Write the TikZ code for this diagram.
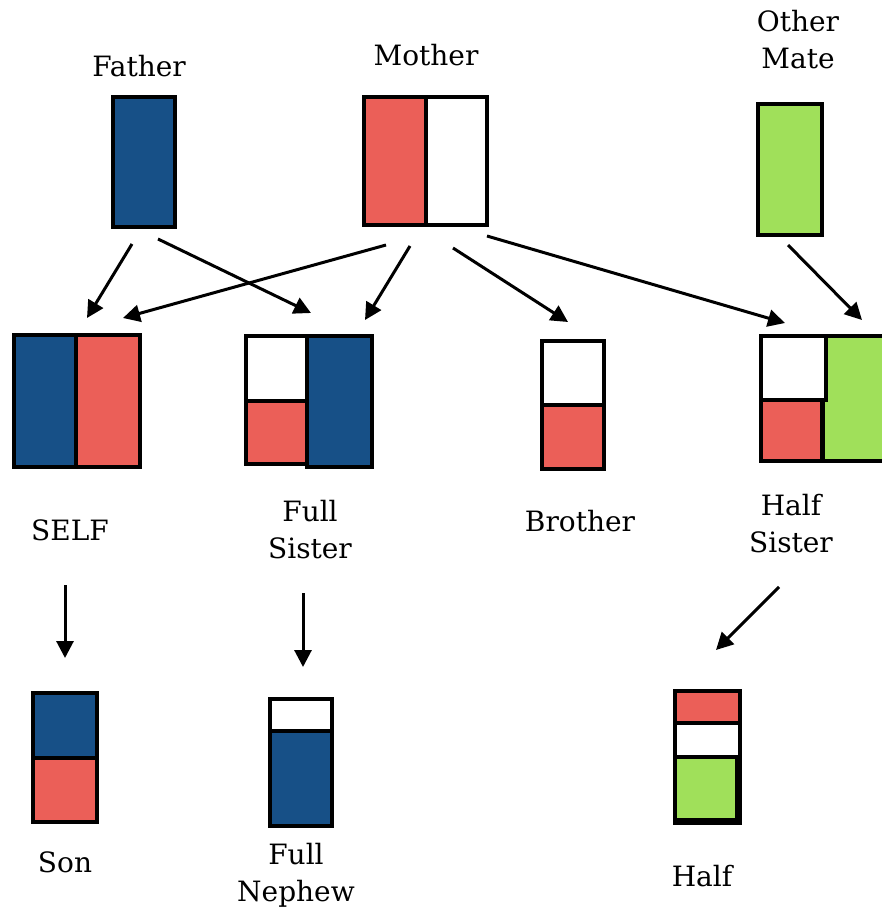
\documentclass[tikz,border=0pt]{standalone}
\usepackage{fontspec}
\setmainfont{DejaVu Serif}
\usetikzlibrary{arrows.meta}
\definecolor{fblue}{RGB}{23,80,135}
\definecolor{mred}{RGB}{235,95,88}
\definecolor{ogreen}{RGB}{160,224,90}
\begin{document}
\begin{tikzpicture}[x=1pt,y=-1pt,
  cell/.style={draw=black, line width=3.4pt, inner sep=0pt, outer sep=0pt},
  lbl/.style={font=\fontsize{28}{37}\selectfont, align=center, inner sep=0pt, anchor=base},
  link/.style={line width=3pt, -{Triangle[length=17pt,width=17pt]}}]
\useasboundingbox (0,0) rectangle (881,907);

% parents
\node[cell, fill=fblue, minimum width=62, minimum height=130] (father) at (144,162) {};
\node[cell, fill=mred, minimum width=62, minimum height=128] (motherA) at (395,161) {};
\node[cell, fill=white, minimum width=61, minimum height=128] (motherB) at (456.5,161) {};
\node[cell, fill=ogreen, minimum width=64, minimum height=131] (mate) at (790,169.5) {};

% children
\node[cell, fill=fblue, minimum width=62, minimum height=132] (selfA) at (45,401) {};
\node[cell, fill=mred, minimum width=64, minimum height=132] (selfB) at (108,401) {};

\node[cell, fill=white, minimum width=61, minimum height=65] (fsisA) at (276.5,368.5) {};
\node[cell, fill=mred, minimum width=61, minimum height=63] (fsisB) at (276.5,432.5) {};
\node[cell, fill=fblue, minimum width=65, minimum height=131] (fsisC) at (339.5,401.5) {};

\node[cell, fill=white, minimum width=62, minimum height=64] (broA) at (573,373) {};
\node[cell, fill=mred, minimum width=62, minimum height=64] (broB) at (573,437) {};

\node[cell, fill=ogreen, minimum width=63, minimum height=125] (hsisC) at (854.5,398.5) {};
\node[cell, fill=mred, minimum width=61, minimum height=61] (hsisB) at (791.5,430.5) {};
\node[cell, fill=white, minimum width=65, minimum height=64] (hsisA) at (793.5,368) {};

% grandchildren
\node[cell, fill=fblue, minimum width=64, minimum height=65] (sonA) at (65,725.5) {};
\node[cell, fill=mred, minimum width=64, minimum height=64] (sonB) at (65,790) {};

\node[cell, fill=white, minimum width=62, minimum height=32] (nephA) at (301,715) {};
\node[cell, fill=fblue, minimum width=62, minimum height=95] (nephB) at (301,778.5) {};

\node[cell, minimum width=65, minimum height=132] (halfF) at (707.5,757.5) {};
\node[cell, fill=mred, minimum width=65, minimum height=32] (halfA) at (707.5,707) {};
\node[cell, fill=white, minimum width=65, minimum height=34] (halfB) at (707.5,740) {};
\node[cell, fill=ogreen, minimum width=62, minimum height=63] (halfC) at (706,788.5) {};

% labels (base anchor sits on the last line)
\node[lbl] (tFather) at (139,77) {Father};
\node[lbl] (tMother) at (426,66) {Mother};
\node[lbl] (tMate) at (798,69) {Other\\Mate};
\node[lbl] (tSelf) at (70,540) {SELF};
\node[lbl] (tFsis) at (310,558) {Full\\Sister};
\node[lbl] (tBro) at (580,531) {Brother};
\node[lbl] (tHsis) at (791,552) {Half\\Sister};
\node[lbl] (tSon) at (65,872) {Son};
\node[lbl] (tNeph) at (296,901) {Full\\Nephew};
\node[lbl] (tHalf) at (702,886) {Half};

% connector ends
\coordinate (fa1) at (132,244);  \coordinate (s1) at (87,318);
\coordinate (fa2) at (158,239);  \coordinate (fs1) at (311,313);
\coordinate (mo1) at (386,245);  \coordinate (s2) at (123,318);
\coordinate (mo2) at (410,246);  \coordinate (fs2) at (365,320);
\coordinate (mo3) at (453,248);  \coordinate (b1) at (568,322);
\coordinate (mo4) at (487,236);  \coordinate (hs1) at (785,323);
\coordinate (om1) at (788,245);  \coordinate (hs2) at (862,320);
\coordinate (se1) at (65,585);   \coordinate (so1) at (65,658);
\coordinate (fs3) at (303,593);  \coordinate (ne1) at (303,667);
\coordinate (hs3) at (779,587);  \coordinate (hn1) at (716,650);

\draw[link] (fa1) -- (s1);
\draw[link] (fa2) -- (fs1);
\draw[link] (mo1) -- (s2);
\draw[link] (mo2) -- (fs2);
\draw[link] (mo3) -- (b1);
\draw[link] (mo4) -- (hs1);
\draw[link] (om1) -- (hs2);
\draw[link] (se1) -- (so1);
\draw[link] (fs3) -- (ne1);
\draw[link] (hs3) -- (hn1);
\end{tikzpicture}
\end{document}
